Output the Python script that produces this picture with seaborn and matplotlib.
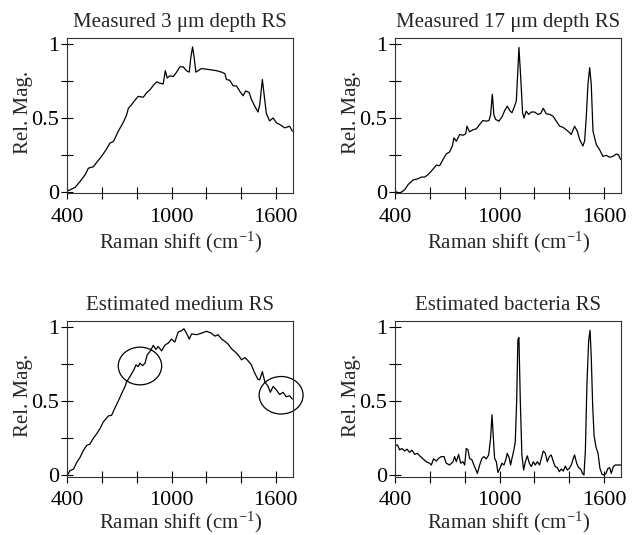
import numpy as np
import pandas as pd
import matplotlib
matplotlib.use('Agg')
import matplotlib.pyplot as plt
import seaborn as sns
from matplotlib.patches import Ellipse

# ---- data (shift in cm^-1, relative magnitude) ----
shift_3um = [400, 415, 444, 473, 502, 521, 550, 569, 597, 626, 645, 665, 693, 722, 741, 751,
             770, 789, 808, 837, 856, 875, 895, 914, 933, 952, 964, 975, 990, 1010, 1029, 1048,
             1067, 1086, 1102, 1111, 1121, 1130, 1140, 1153, 1172, 1201, 1230, 1259, 1288, 1307,
             1316, 1335, 1355, 1374, 1393, 1412, 1427, 1447, 1460, 1479, 1498, 1508, 1523, 1537,
             1546, 1565, 1585, 1604, 1623, 1652, 1680, 1696]
mag_3um = [0.007, 0.013, 0.03, 0.07, 0.115, 0.16, 0.17, 0.2, 0.24, 0.29, 0.33, 0.34, 0.41, 0.47,
           0.52, 0.565, 0.59, 0.62, 0.646, 0.64, 0.67, 0.69, 0.72, 0.744, 0.735, 0.73, 0.82, 0.77,
           0.785, 0.78, 0.81, 0.846, 0.846, 0.82, 0.81, 0.91, 0.98, 0.91, 0.81, 0.82, 0.834, 0.83,
           0.825, 0.82, 0.81, 0.8, 0.76, 0.755, 0.717, 0.717, 0.68, 0.65, 0.683, 0.672, 0.626,
           0.58, 0.54, 0.59, 0.76, 0.62, 0.53, 0.48, 0.5, 0.467, 0.456, 0.433, 0.444, 0.41]

shift_17um = [400, 425, 454, 473, 502, 530, 550, 569, 588, 607, 636, 655, 674, 693, 712, 728,
              737, 751, 770, 789, 805, 812, 827, 847, 866, 885, 904, 923, 939, 948, 958, 967,
              977, 996, 1015, 1029, 1044, 1058, 1071, 1086, 1096, 1104, 1111, 1121, 1132, 1140,
              1153, 1167, 1182, 1201, 1220, 1236, 1251, 1268, 1288, 1307, 1326, 1345, 1364, 1383,
              1403, 1412, 1431, 1447, 1460, 1479, 1489, 1498, 1508, 1518, 1527, 1537, 1556, 1575,
              1594, 1613, 1633, 1652, 1671, 1684, 1696]
mag_17um = [0.002, -0.01, 0.014, 0.048, 0.08, 0.088, 0.1, 0.1, 0.116, 0.14, 0.18, 0.177, 0.218,
            0.256, 0.27, 0.31, 0.365, 0.342, 0.388, 0.383, 0.392, 0.444, 0.406, 0.42, 0.426,
            0.456, 0.483, 0.478, 0.483, 0.52, 0.66, 0.52, 0.49, 0.478, 0.51, 0.55, 0.58, 0.55,
            0.535, 0.58, 0.615, 0.8, 0.977, 0.78, 0.535, 0.5, 0.546, 0.524, 0.54, 0.54, 0.524,
            0.53, 0.565, 0.528, 0.524, 0.512, 0.478, 0.444, 0.437, 0.42, 0.4, 0.388, 0.444, 0.41,
            0.354, 0.31, 0.345, 0.5, 0.728, 0.84, 0.728, 0.41, 0.32, 0.285, 0.24, 0.247, 0.234,
            0.24, 0.256, 0.25, 0.218]

shift_medium = [400, 415, 435, 454, 473, 492, 511, 530, 550, 569, 588, 607, 622, 636, 655, 674,
                693, 712, 732, 741, 760, 780, 795, 808, 818, 833, 847, 860, 875, 895, 910, 923,
                943, 962, 981, 1000, 1019, 1038, 1058, 1071, 1086, 1102, 1115, 1144, 1172, 1201,
                1230, 1249, 1268, 1288, 1307, 1326, 1345, 1364, 1383, 1403, 1422, 1441, 1460, 1479,
                1498, 1508, 1523, 1537, 1556, 1569, 1585, 1604, 1623, 1642, 1661, 1680, 1696]
mag_medium = [0.0, 0.03, 0.04, 0.086, 0.12, 0.166, 0.2, 0.21, 0.25, 0.28, 0.314, 0.36, 0.38, 0.4,
              0.405, 0.455, 0.5, 0.55, 0.6, 0.63, 0.666, 0.705, 0.745, 0.734, 0.757, 0.74, 0.757,
              0.814, 0.836, 0.877, 0.85, 0.87, 0.84, 0.88, 0.893, 0.92, 0.9, 0.968, 0.977, 0.99,
              0.96, 0.92, 0.955, 0.95, 0.96, 0.973, 0.96, 0.94, 0.95, 0.92, 0.905, 0.886, 0.855,
              0.836, 0.814, 0.78, 0.795, 0.773, 0.745, 0.69, 0.648, 0.645, 0.7, 0.632, 0.6, 0.56,
              0.6, 0.575, 0.545, 0.56, 0.53, 0.536, 0.514]

shift_bact = [400, 412, 425, 438, 454, 467, 482, 496, 511, 527, 540, 559, 578, 597, 607, 620,
              636, 649, 665, 680, 693, 712, 732, 741, 751, 764, 776, 789, 799, 808, 818, 827,
              841, 852, 864, 872, 885, 898, 910, 923, 937, 948, 956, 964, 971, 981, 990, 1002,
              1013, 1025, 1035, 1044, 1056, 1063, 1071, 1082, 1090, 1098, 1105, 1111, 1119, 1128,
              1138, 1148, 1159, 1171, 1182, 1194, 1205, 1217, 1230, 1240, 1251, 1263, 1274, 1286,
              1297, 1309, 1320, 1332, 1343, 1355, 1366, 1378, 1389, 1401, 1412, 1424, 1431, 1443,
              1454, 1466, 1477, 1485, 1493, 1502, 1512, 1520, 1527, 1535, 1543, 1554, 1566, 1577,
              1589, 1600, 1612, 1623, 1633, 1642, 1654, 1665, 1680, 1696]
mag_bact = [0.2, 0.204, 0.17, 0.18, 0.163, 0.175, 0.154, 0.168, 0.14, 0.147, 0.13, 0.11, 0.09,
            0.08, 0.068, 0.11, 0.095, 0.113, 0.125, 0.125, 0.08, 0.068, 0.09, 0.125, 0.09, 0.14,
            0.08, 0.09, 0.068, 0.18, 0.17, 0.113, 0.102, 0.068, 0.034, 0.011, 0.068, 0.113, 0.125,
            0.109, 0.136, 0.25, 0.408, 0.25, 0.113, 0.09, 0.018, 0.045, 0.08, 0.068, 0.102, 0.147,
            0.113, 0.068, 0.113, 0.17, 0.227, 0.5, 0.918, 0.93, 0.5, 0.136, 0.034, 0.09, 0.13,
            0.08, 0.057, 0.09, 0.068, 0.09, 0.068, 0.113, 0.163, 0.147, 0.09, 0.125, 0.136, 0.09,
            0.057, 0.05, 0.023, 0.041, 0.027, 0.061, 0.034, 0.045, 0.068, 0.113, 0.136, 0.08,
            0.05, 0.041, 0.011, 0.0, 0.159, 0.61, 0.907, 0.98, 0.8, 0.476, 0.27, 0.19, 0.147,
            0.045, 0.005, 0.0, 0.011, 0.045, 0.05, 0.011, 0.057, 0.068, 0.068, 0.068]

titles = ['Measured 3 \u03bcm depth RS', 'Measured 17 \u03bcm depth RS',
          'Estimated medium RS', 'Estimated bacteria RS']
x_ticks = [400, 600, 800, 1000, 1200, 1400, 1600]
x_ticklabels = ['400', '', '', '1000', '', '', '1600']
y_ticks = [0, 0.25, 0.5, 0.75, 1]
y_ticklabels = ['0', '', '0.5', '', '1']

# circles marking regions on the medium spectrum (center x, center y, width, height)
circles = [(818, 0.738, 250, 0.255), (1631, 0.54, 253, 0.254)]

sns.set_style('ticks')
plt.rcParams['font.family'] = ['Liberation Serif', 'DejaVu Serif']
plt.rcParams['mathtext.fontset'] = 'custom'
plt.rcParams['mathtext.rm'] = 'Liberation Serif'
plt.rcParams['mathtext.it'] = 'Liberation Serif:italic'

fig = plt.figure(figsize=(6.37, 5.35), dpi=100)
positions = [[0.1058, 0.6387, 0.3543, 0.2900], [0.6206, 0.6387, 0.3548, 0.2900],
             [0.1058, 0.1093, 0.3543, 0.2900], [0.6206, 0.1093, 0.3548, 0.2900]]
axes = [fig.add_axes(p) for p in positions]

series = [(shift_3um, mag_3um), (shift_17um, mag_17um),
          (shift_medium, mag_medium), (shift_bact, mag_bact)]

for i, (ax, (sx, sy), title) in enumerate(zip(axes, series, titles)):
    df = pd.DataFrame({'shift': sx, 'mag': sy})
    sns.lineplot(data=df, x='shift', y='mag', ax=ax, color='k', linewidth=0.9)
    ax.set_xlim(400, 1700)
    ax.set_ylim(-0.01, 1.04)
    ax.set_xticks(x_ticks)
    ax.set_xticklabels(x_ticklabels)
    ax.set_yticks(y_ticks)
    ax.set_yticklabels(y_ticklabels)
    ax.tick_params(direction='inout', length=8, width=0.8, labelsize=16, colors='k')
    ax.tick_params(axis='x', pad=6.7)
    ax.tick_params(axis='y', pad=2)
    ax.set_title(title, fontsize=15, pad=8)
    ax.set_xlabel('Raman shift (cm$^{\\mathregular{-1}}$)', fontsize=15)
    # bottom row sits right at the figure edge, nudge it up a touch
    ax.xaxis.set_label_coords(0.5, -0.235 if i < 2 else -0.215)
    ax.set_ylabel('Rel. Mag.', fontsize=15)
    ax.yaxis.set_label_coords(-0.152, 0.52)
    for sp in ax.spines.values():
        sp.set_visible(True)
        sp.set_linewidth(0.8)
        sp.set_color('#333333')

for cx, cy, w, h in circles:
    axes[2].add_patch(Ellipse((cx, cy), w, h, fill=False, edgecolor='k',
                              linewidth=0.9, clip_on=False))

fig.savefig('out.png', dpi=100)
